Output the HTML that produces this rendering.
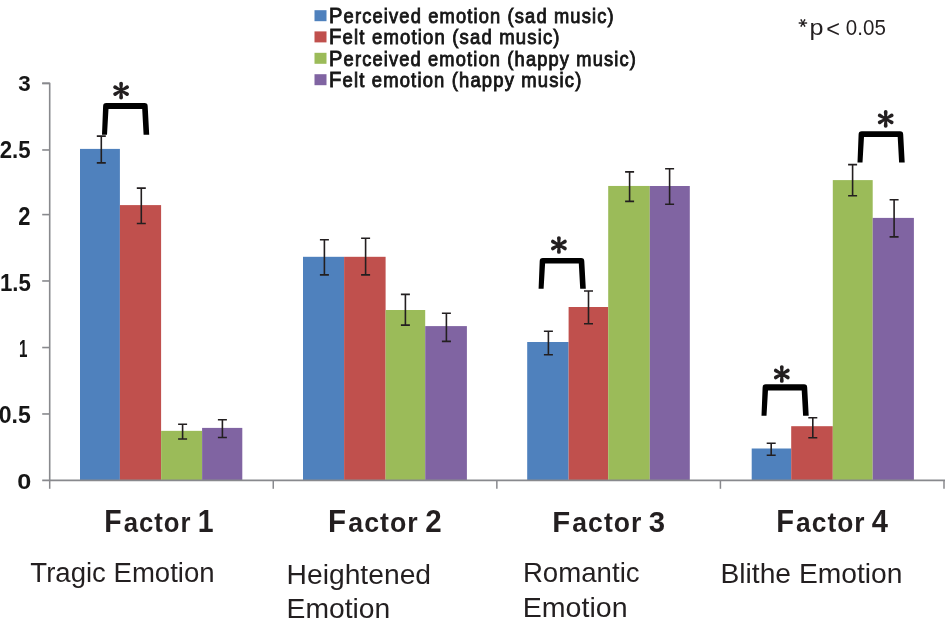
<!DOCTYPE html>
<html><head><meta charset="utf-8"><style>
html,body{margin:0;padding:0;background:#fff;}
svg{display:block;will-change:transform;}
text{font-family:"Liberation Sans",sans-serif;}
.leg{font-size:20.5px;fill:#161616;stroke:#161616;stroke-width:0.9px;letter-spacing:1.3px;}
.legc{font-size:22.5px;}
.yl{font-weight:bold;font-size:23px;fill:#161616;}
.fac{font-weight:bold;font-size:28.5px;fill:#231F20;letter-spacing:1.1px;}
.facc{font-size:31.5px;}
.sub{font-size:28px;fill:#231F20;}
.pv{font-size:21px;fill:#231F20;}
</style></head>
<body><svg width="945" height="626" viewBox="0 0 945 626">
<rect width="945" height="626" fill="#fff"/>
<rect x="80.00" y="148.90" width="39.90" height="331.40" fill="#4F81BD"/>
<rect x="119.90" y="205.10" width="41.20" height="275.20" fill="#C0504D"/>
<rect x="161.10" y="430.85" width="41.00" height="49.45" fill="#9BBB59"/>
<rect x="202.10" y="427.90" width="40.20" height="52.40" fill="#8064A2"/>
<rect x="303.00" y="256.80" width="41.10" height="223.50" fill="#4F81BD"/>
<rect x="344.10" y="256.80" width="41.50" height="223.50" fill="#C0504D"/>
<rect x="385.60" y="310.00" width="39.60" height="170.30" fill="#9BBB59"/>
<rect x="425.20" y="326.10" width="41.70" height="154.20" fill="#8064A2"/>
<rect x="527.20" y="342.00" width="41.40" height="138.30" fill="#4F81BD"/>
<rect x="568.60" y="307.00" width="39.60" height="173.30" fill="#C0504D"/>
<rect x="608.20" y="185.95" width="41.60" height="294.35" fill="#9BBB59"/>
<rect x="649.80" y="186.00" width="40.00" height="294.30" fill="#8064A2"/>
<rect x="751.70" y="448.50" width="39.50" height="31.80" fill="#4F81BD"/>
<rect x="791.20" y="426.20" width="41.60" height="54.10" fill="#C0504D"/>
<rect x="832.80" y="180.10" width="39.90" height="300.20" fill="#9BBB59"/>
<rect x="872.70" y="217.90" width="41.20" height="262.40" fill="#8064A2"/>
<path d="M42.2 83.33H49.70V480.30" stroke="#88898D" stroke-width="1.6" fill="none" stroke-linejoin="round"/>
<path d="M42.2 413.97H49.70" stroke="#88898D" stroke-width="1.6"/>
<path d="M42.2 347.54H49.70" stroke="#88898D" stroke-width="1.6"/>
<path d="M42.2 280.97H49.70" stroke="#88898D" stroke-width="1.6"/>
<path d="M42.2 214.60H49.70" stroke="#88898D" stroke-width="1.6"/>
<path d="M42.2 149.97H49.70" stroke="#88898D" stroke-width="1.6"/>
<path d="M42.2 83.33H49.70" stroke="#88898D" stroke-width="1.6"/>
<path d="M42.2 480.30H945" stroke="#88898D" stroke-width="1.7"/>
<path d="M49.70 480.30V488.8" stroke="#88898D" stroke-width="1.5"/>
<path d="M273.27 480.30V488.8" stroke="#88898D" stroke-width="1.5"/>
<path d="M496.85 480.30V488.8" stroke="#88898D" stroke-width="1.5"/>
<path d="M720.42 480.30V488.8" stroke="#88898D" stroke-width="1.5"/>
<path d="M944.00 480.30V488.8" stroke="#88898D" stroke-width="1.5"/>
<path d="M101.30 136.10V162.90M96.80 136.10h9M96.80 162.90h9" stroke="#231F20" stroke-width="1.6" fill="none"/>
<path d="M141.30 188.10V223.50M136.80 188.10h9M136.80 223.50h9" stroke="#231F20" stroke-width="1.6" fill="none"/>
<path d="M182.60 424.30V439.00M178.10 424.30h9M178.10 439.00h9" stroke="#231F20" stroke-width="1.6" fill="none"/>
<path d="M222.40 419.80V437.50M217.90 419.80h9M217.90 437.50h9" stroke="#231F20" stroke-width="1.6" fill="none"/>
<path d="M324.40 239.70V274.90M319.90 239.70h9M319.90 274.90h9" stroke="#231F20" stroke-width="1.6" fill="none"/>
<path d="M365.60 238.30V274.90M361.10 238.30h9M361.10 274.90h9" stroke="#231F20" stroke-width="1.6" fill="none"/>
<path d="M405.40 294.40V325.10M400.90 294.40h9M400.90 325.10h9" stroke="#231F20" stroke-width="1.6" fill="none"/>
<path d="M446.40 313.30V341.40M441.90 313.30h9M441.90 341.40h9" stroke="#231F20" stroke-width="1.6" fill="none"/>
<path d="M548.40 331.20V354.70M543.90 331.20h9M543.90 354.70h9" stroke="#231F20" stroke-width="1.6" fill="none"/>
<path d="M588.50 291.00V323.80M584.00 291.00h9M584.00 323.80h9" stroke="#231F20" stroke-width="1.6" fill="none"/>
<path d="M629.60 171.90V201.40M625.10 171.90h9M625.10 201.40h9" stroke="#231F20" stroke-width="1.6" fill="none"/>
<path d="M669.60 168.70V204.30M665.10 168.70h9M665.10 204.30h9" stroke="#231F20" stroke-width="1.6" fill="none"/>
<path d="M771.20 443.30V455.20M766.70 443.30h9M766.70 455.20h9" stroke="#231F20" stroke-width="1.6" fill="none"/>
<path d="M812.80 417.80V437.70M808.30 417.80h9M808.30 437.70h9" stroke="#231F20" stroke-width="1.6" fill="none"/>
<path d="M852.60 164.60V195.70M848.10 164.60h9M848.10 195.70h9" stroke="#231F20" stroke-width="1.6" fill="none"/>
<path d="M894.10 199.80V236.90M889.60 199.80h9M889.60 236.90h9" stroke="#231F20" stroke-width="1.6" fill="none"/>
<path d="M102.00 134.80L103.10 106.30Q103.10 103.10 106.30 103.10L144.50 103.10Q147.70 103.10 147.70 106.30L149.20 134.80L143.60 134.80L142.20 108.90L108.50 108.90L107.00 134.80Z" fill="#000"/>
<path d="M122.20 90.60L123.00 83.70A1.9 1.9 0 0 0 119.20 83.70L120.00 90.60ZM121.65 91.55L128.03 88.80A1.9 1.9 0 0 0 126.13 85.50L120.55 89.65ZM120.55 91.55L126.13 95.70A1.9 1.9 0 0 0 128.03 92.40L121.65 89.65ZM120.00 90.60L119.20 97.50A1.9 1.9 0 0 0 123.00 97.50L122.20 90.60ZM120.55 89.65L114.17 92.40A1.9 1.9 0 0 0 116.07 95.70L121.65 91.55ZM121.65 89.65L116.07 85.50A1.9 1.9 0 0 0 114.17 88.80L120.55 91.55Z" fill="#231F20"/>
<path d="M538.60 288.70L539.70 261.20Q539.70 258.00 542.90 258.00L581.10 258.00Q584.30 258.00 584.30 261.20L585.80 288.70L580.20 288.70L578.80 263.60L545.10 263.60L543.60 288.70Z" fill="#000"/>
<path d="M560.00 245.00L560.80 238.10A1.9 1.9 0 0 0 557.00 238.10L557.80 245.00ZM559.45 245.95L565.83 243.20A1.9 1.9 0 0 0 563.93 239.90L558.35 244.05ZM558.35 245.95L563.93 250.10A1.9 1.9 0 0 0 565.83 246.80L559.45 244.05ZM557.80 245.00L557.00 251.90A1.9 1.9 0 0 0 560.80 251.90L560.00 245.00ZM558.35 244.05L551.97 246.80A1.9 1.9 0 0 0 553.87 250.10L559.45 245.95ZM559.45 244.05L553.87 239.90A1.9 1.9 0 0 0 551.97 243.20L558.35 245.95Z" fill="#231F20"/>
<path d="M761.50 415.80L762.60 387.40Q762.60 384.20 765.80 384.20L804.00 384.20Q807.20 384.20 807.20 387.40L808.70 415.80L803.10 415.80L801.70 390.40L768.00 390.40L766.50 415.80Z" fill="#000"/>
<path d="M782.90 374.00L783.70 367.10A1.9 1.9 0 0 0 779.90 367.10L780.70 374.00ZM782.35 374.95L788.73 372.20A1.9 1.9 0 0 0 786.83 368.90L781.25 373.05ZM781.25 374.95L786.83 379.10A1.9 1.9 0 0 0 788.73 375.80L782.35 373.05ZM780.70 374.00L779.90 380.90A1.9 1.9 0 0 0 783.70 380.90L782.90 374.00ZM781.25 373.05L774.87 375.80A1.9 1.9 0 0 0 776.77 379.10L782.35 374.95ZM782.35 373.05L776.77 368.90A1.9 1.9 0 0 0 774.87 372.20L781.25 374.95Z" fill="#231F20"/>
<path d="M857.50 162.60L858.60 134.50Q858.60 131.30 861.80 131.30L900.00 131.30Q903.20 131.30 903.20 134.50L904.70 162.60L899.10 162.60L897.70 136.90L864.00 136.90L862.50 162.60Z" fill="#000"/>
<path d="M886.80 118.90L887.60 112.00A1.9 1.9 0 0 0 883.80 112.00L884.60 118.90ZM886.25 119.85L892.63 117.10A1.9 1.9 0 0 0 890.73 113.80L885.15 117.95ZM885.15 119.85L890.73 124.00A1.9 1.9 0 0 0 892.63 120.70L886.25 117.95ZM884.60 118.90L883.80 125.80A1.9 1.9 0 0 0 887.60 125.80L886.80 118.90ZM885.15 117.95L878.77 120.70A1.9 1.9 0 0 0 880.67 124.00L886.25 119.85ZM886.25 117.95L880.67 113.80A1.9 1.9 0 0 0 878.77 117.10L885.15 119.85Z" fill="#231F20"/>
<path d="M802.90 23.45L806.50 23.80A0.8 0.8 0 0 0 806.50 22.20L802.90 22.55ZM803.29 23.23L805.39 20.28A0.8 0.8 0 0 0 804.01 19.48L802.51 22.77ZM803.29 22.77L801.79 19.48A0.8 0.8 0 0 0 800.41 20.28L802.51 23.23ZM802.90 22.55L799.30 22.20A0.8 0.8 0 0 0 799.30 23.80L802.90 23.45ZM802.51 22.77L800.41 25.72A0.8 0.8 0 0 0 801.79 26.52L803.29 23.23ZM802.51 23.23L804.01 26.52A0.8 0.8 0 0 0 805.39 25.72L803.29 22.77Z" fill="#231F20"/>
<rect x="314.5" y="10.20" width="12" height="11" fill="#4F81BD"/>
<rect x="314.5" y="31.40" width="12" height="11" fill="#C0504D"/>
<rect x="314.5" y="52.80" width="12" height="11" fill="#9BBB59"/>
<rect x="314.5" y="74.20" width="12" height="11" fill="#8064A2"/>
<g transform="translate(329.06,22.70) scale(0.8922,1.0000)"><text class="leg"><tspan class="legc">P</tspan>erceived emotion (sad music)</text></g>
<g transform="translate(329.05,44.20) scale(0.9019,1.0000)"><text class="leg"><tspan class="legc">F</tspan>elt emotion (sad music)</text></g>
<g transform="translate(329.06,65.70) scale(0.8906,1.0000)"><text class="leg"><tspan class="legc">P</tspan>erceived emotion (happy music)</text></g>
<g transform="translate(329.05,87.30) scale(0.8987,1.0000)"><text class="leg"><tspan class="legc">F</tspan>elt emotion (happy music)</text></g>
<g transform="translate(104.20,531.75) scale(0.9023,0.9909)"><text class="fac"><tspan class="facc">F</tspan><tspan dx="1.2">actor</tspan><tspan class="facc" dx="-3"> 1</tspan></text></g>
<g transform="translate(328.02,531.76) scale(0.9384,0.9753)"><text class="fac"><tspan class="facc">F</tspan><tspan dx="1.2">actor</tspan><tspan class="facc" dx="-3"> 2</tspan></text></g>
<g transform="translate(552.24,531.76) scale(0.9322,0.9573)"><text class="fac"><tspan class="facc">F</tspan><tspan dx="1.2">actor</tspan><tspan class="facc" dx="-3"> 3</tspan></text></g>
<g transform="translate(776.15,531.76) scale(0.9244,0.9682)"><text class="fac"><tspan class="facc">F</tspan><tspan dx="1.2">actor</tspan><tspan class="facc" dx="-3"> 4</tspan></text></g>
<g transform="translate(30.36,582.00) scale(0.9840,1.0000)"><text class="sub">Tragic Emotion</text></g>
<g transform="translate(286.53,583.80) scale(1.0097,1.0000)"><text class="sub">Heightened</text></g>
<g transform="translate(286.53,617.80) scale(1.0102,1.0000)"><text class="sub">Emotion</text></g>
<g transform="translate(522.88,582.20) scale(0.9874,1.0000)"><text class="sub">Romantic</text></g>
<g transform="translate(522.80,616.70) scale(1.0203,1.0000)"><text class="sub">Emotion</text></g>
<g transform="translate(720.43,582.80) scale(1.0085,1.0000)"><text class="sub">Blithe Emotion</text></g>
<g transform="translate(18.21,91.35) scale(0.9739,0.9908)"><text class="yl">3</text></g>
<g transform="translate(-0.33,157.64) scale(0.9672,1.0338)"><text class="yl">2.5</text></g>
<g transform="translate(18.18,224.70) scale(0.9545,1.0938)"><text class="yl">2</text></g>
<g transform="translate(-0.05,291.03) scale(0.9681,1.0625)"><text class="yl">1.5</text></g>
<g transform="translate(18.91,357.00) scale(0.6605,1.0476)"><text class="yl">1</text></g>
<g transform="translate(-1.30,423.24) scale(1.0017,1.0462)"><text class="yl">0.5</text></g>
<g transform="translate(17.30,488.86) scale(1.0977,0.9723)"><text class="yl">0</text></g>
<g transform="translate(809.60,35.35) scale(1.2000,1.0710)"><text class="pv">p</text></g>
<g transform="translate(826.18,36.90) scale(1.1220,1.1429)"><text class="pv">&lt;</text></g>
<g transform="translate(845.87,35.13) scale(0.9783,1.0733)"><text class="pv">0.05</text></g>
</svg></body></html>
